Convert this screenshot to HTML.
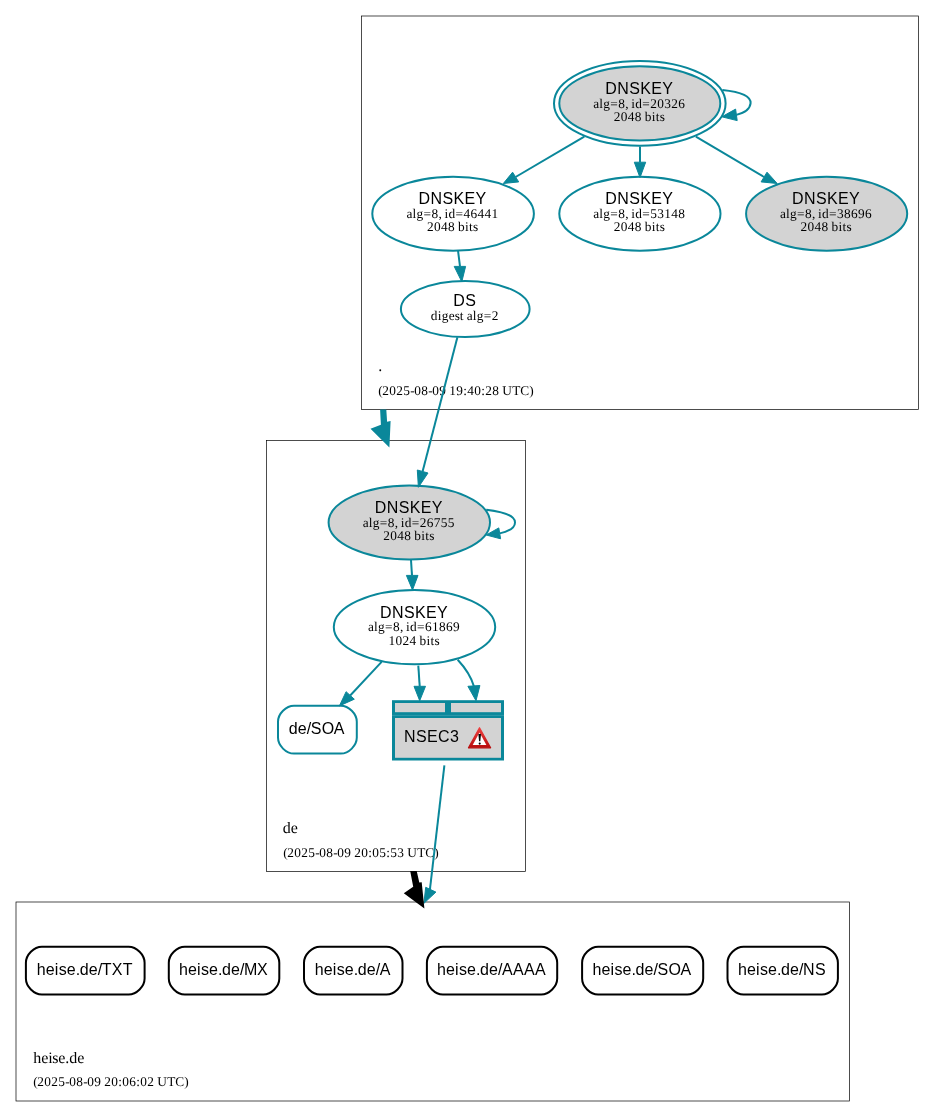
<!DOCTYPE html>
<html><head><meta charset="utf-8">
<style>
html,body{margin:0;padding:0;background:#fff;width:935px;height:1117px;overflow:hidden}
svg{display:block;will-change:transform}

</style></head>
<body>
<svg width="935" height="1117" viewBox="0 0 935 1117">
<rect x="0" y="0" width="935" height="1117" fill="#fff"/>
<g fill="none" stroke="#000" stroke-width="0.7">
<rect x="361.5" y="16" width="557" height="393.5"/>
<rect x="266.5" y="440.5" width="259" height="431"/>
<rect x="16" y="902" width="833.5" height="199"/>
</g>
<text x="378.2" y="371.3" style="font-family:'Liberation Serif',serif;font-size:16px;text-rendering:geometricPrecision" fill="#000">.</text>
<text x="378.2 382.2 389.2 396.2 403.2 410.2 414.2 421.2 428.2 432.2 439.2 446.2 449.2 456.2 463.2 467.2 474.2 481.2 485.2 492.2 499.2 502.2 512.2 520.2 529.2" y="394.9" style="font-family:'Liberation Serif',serif;font-size:13.333px;text-rendering:geometricPrecision" fill="#000">(2025-08-09 19:40:28 UTC)</text>
<text x="282.7 290.7" y="832.5" style="font-family:'Liberation Serif',serif;font-size:16px;text-rendering:geometricPrecision" fill="#000">de</text>
<text x="283.3 287.3 294.3 301.3 308.3 315.3 319.3 326.3 333.3 337.3 344.3 351.3 354.3 361.3 368.3 372.3 379.3 386.3 390.3 397.3 404.3 407.3 417.3 425.3 434.3" y="856.7" style="font-family:'Liberation Serif',serif;font-size:13.333px;text-rendering:geometricPrecision" fill="#000">(2025-08-09 20:05:53 UTC)</text>
<text x="33.2 41.2 48.2 52.2 58.2 65.2 69.2 77.2" y="1062.7" style="font-family:'Liberation Serif',serif;font-size:16px;text-rendering:geometricPrecision" fill="#000">heise.de</text>
<text x="33.2 37.2 44.2 51.2 58.2 65.2 69.2 76.2 83.2 87.2 94.2 101.2 104.2 111.2 118.2 122.2 129.2 136.2 140.2 147.2 154.2 157.2 167.2 175.2 184.2" y="1085.5" style="font-family:'Liberation Serif',serif;font-size:13.333px;text-rendering:geometricPrecision" fill="#000">(2025-08-09 20:06:02 UTC)</text>
<ellipse cx="639.8" cy="103.4" rx="85.8" ry="42.4" fill="none" stroke="#0a879a" stroke-width="2"/>
<ellipse cx="639.8" cy="103.4" rx="80.5" ry="37.1" fill="#d3d3d3" stroke="#0a879a" stroke-width="2"/>
<text x="605.2 617.2 629.2 640.2 651.2 662.2" y="94" style="font-family:'Liberation Sans',sans-serif;font-size:16px" fill="#000">DNSKEY</text>
<text x="593.2 599.2 603.2 610.2 618.2 625.2 628.2 631.2 635.2 642.2 650.2 657.2 664.2 671.2 678.2" y="108" style="font-family:'Liberation Serif',serif;font-size:13.333px;text-rendering:geometricPrecision" fill="#000">alg=8, id=20326</text>
<text x="613.7 620.7 627.7 634.7 641.7 644.7 651.7 655.7 659.7" y="121" style="font-family:'Liberation Serif',serif;font-size:13.333px;text-rendering:geometricPrecision" fill="#000">2048 bits</text>
<ellipse cx="453.1" cy="213.75" rx="80.8" ry="37" fill="none" stroke="#0a879a" stroke-width="2"/>
<text x="418.5 430.5 442.5 453.5 464.5 475.5" y="204" style="font-family:'Liberation Sans',sans-serif;font-size:16px" fill="#000">DNSKEY</text>
<text x="406.5 412.5 416.5 423.5 431.5 438.5 441.5 444.5 448.5 455.5 463.5 470.5 477.5 484.5 491.5" y="218" style="font-family:'Liberation Serif',serif;font-size:13.333px;text-rendering:geometricPrecision" fill="#000">alg=8, id=46441</text>
<text x="427.0 434.0 441.0 448.0 455.0 458.0 465.0 469.0 473.0" y="231" style="font-family:'Liberation Serif',serif;font-size:13.333px;text-rendering:geometricPrecision" fill="#000">2048 bits</text>
<ellipse cx="639.9" cy="213.75" rx="80.6" ry="37" fill="none" stroke="#0a879a" stroke-width="2"/>
<text x="605.3 617.3 629.3 640.3 651.3 662.3" y="204" style="font-family:'Liberation Sans',sans-serif;font-size:16px" fill="#000">DNSKEY</text>
<text x="593.3 599.3 603.3 610.3 618.3 625.3 628.3 631.3 635.3 642.3 650.3 657.3 664.3 671.3 678.3" y="218" style="font-family:'Liberation Serif',serif;font-size:13.333px;text-rendering:geometricPrecision" fill="#000">alg=8, id=53148</text>
<text x="613.8 620.8 627.8 634.8 641.8 644.8 651.8 655.8 659.8" y="231" style="font-family:'Liberation Serif',serif;font-size:13.333px;text-rendering:geometricPrecision" fill="#000">2048 bits</text>
<ellipse cx="826.65" cy="213.75" rx="80.55" ry="37" fill="#d3d3d3" stroke="#0a879a" stroke-width="2"/>
<text x="792.05 804.05 816.05 827.05 838.05 849.05" y="204" style="font-family:'Liberation Sans',sans-serif;font-size:16px" fill="#000">DNSKEY</text>
<text x="780.05 786.05 790.05 797.05 805.05 812.05 815.05 818.05 822.05 829.05 837.05 844.05 851.05 858.05 865.05" y="218" style="font-family:'Liberation Serif',serif;font-size:13.333px;text-rendering:geometricPrecision" fill="#000">alg=8, id=38696</text>
<text x="800.55 807.55 814.55 821.55 828.55 831.55 838.55 842.55 846.55" y="231" style="font-family:'Liberation Serif',serif;font-size:13.333px;text-rendering:geometricPrecision" fill="#000">2048 bits</text>
<ellipse cx="465.25" cy="309" rx="64.35" ry="28.1" fill="none" stroke="#0a879a" stroke-width="2"/>
<text x="453.15 465.15" y="306" style="font-family:'Liberation Sans',sans-serif;font-size:16px" fill="#000">DS</text>
<text x="430.65 437.65 441.65 448.65 454.65 459.65 463.65 466.65 472.65 476.65 483.65 491.65" y="320" style="font-family:'Liberation Serif',serif;font-size:13.333px;text-rendering:geometricPrecision" fill="#000">digest alg=2</text>
<ellipse cx="409.3" cy="522.5" rx="80.7" ry="37" fill="#d3d3d3" stroke="#0a879a" stroke-width="2"/>
<text x="374.7 386.7 398.7 409.7 420.7 431.7" y="513" style="font-family:'Liberation Sans',sans-serif;font-size:16px" fill="#000">DNSKEY</text>
<text x="362.7 368.7 372.7 379.7 387.7 394.7 397.7 400.7 404.7 411.7 419.7 426.7 433.7 440.7 447.7" y="527" style="font-family:'Liberation Serif',serif;font-size:13.333px;text-rendering:geometricPrecision" fill="#000">alg=8, id=26755</text>
<text x="383.2 390.2 397.2 404.2 411.2 414.2 421.2 425.2 429.2" y="540" style="font-family:'Liberation Serif',serif;font-size:13.333px;text-rendering:geometricPrecision" fill="#000">2048 bits</text>
<ellipse cx="414.5" cy="627.1" rx="80.7" ry="37.1" fill="none" stroke="#0a879a" stroke-width="2"/>
<text x="379.9 391.9 403.9 414.9 425.9 436.9" y="618" style="font-family:'Liberation Sans',sans-serif;font-size:16px" fill="#000">DNSKEY</text>
<text x="367.9 373.9 377.9 384.9 392.9 399.9 402.9 405.9 409.9 416.9 424.9 431.9 438.9 445.9 452.9" y="631" style="font-family:'Liberation Serif',serif;font-size:13.333px;text-rendering:geometricPrecision" fill="#000">alg=8, id=61869</text>
<text x="388.4 395.4 402.4 409.4 416.4 419.4 426.4 430.4 434.4" y="645" style="font-family:'Liberation Serif',serif;font-size:13.333px;text-rendering:geometricPrecision" fill="#000">1024 bits</text>
<path d="M294,705.7 L340.8,705.7 C348.8,705.7 356.8,713.7 356.8,721.7 L356.8,737.6 C356.8,745.6 348.8,753.6 340.8,753.6 L294,753.6 C286.0,753.6 278,745.6 278,737.6 L278,721.7 C278,713.7 286.0,705.7 294,705.7 Z" fill="none" stroke="#0a879a" stroke-width="2"/>
<text x="288.8 297.8 306.8 310.8 321.8 333.8" y="733.5" style="font-family:'Liberation Sans',sans-serif;font-size:16px" fill="#000">de/SOA</text>
<rect x="392" y="700.2" width="112" height="60.3" fill="#0a879a"/>
<rect x="395" y="703" width="50" height="9.2" fill="#d3d3d3"/>
<rect x="451" y="703" width="50" height="9.2" fill="#d3d3d3"/>
<rect x="395" y="718" width="106" height="39.8" fill="#d3d3d3"/>
<rect x="392" y="714.9" width="112" height="0.8" fill="#3a9fae"/>
<text x="404 416 427 438 450" y="741.9" style="font-family:'Liberation Sans',sans-serif;font-size:16px" fill="#000">NSEC3</text>
<defs><linearGradient id="wg" x1="0" y1="0" x2="0" y2="1">
<stop offset="0" stop-color="#ee4040"/><stop offset="1" stop-color="#b80c0c"/>
</linearGradient></defs>
<path d="M479.5,727.8 L490.6,747.8 L468.5,747.8 Z" fill="url(#wg)" stroke="url(#wg)" stroke-width="1.3" stroke-linejoin="round"/>
<path d="M479.5,732.6 L486.4,745.1 L472.7,745.1 Z" fill="#fff"/>
<path d="M478.4,734.0 L481.0,734.0 L480.3,741.2 L479.1,741.2 Z" fill="#000"/>
<circle cx="479.7" cy="743.6" r="1.05" fill="#000"/>
<path d="M41.9,946.7 L128.6,946.7 C136.6,946.7 144.6,954.7 144.6,962.7 L144.6,978.5 C144.6,986.5 136.6,994.5 128.6,994.5 L41.9,994.5 C33.9,994.5 25.9,986.5 25.9,978.5 L25.9,962.7 C25.9,954.7 33.9,946.7 41.9,946.7 Z" fill="none" stroke="#000" stroke-width="2"/>
<text x="36.65 45.65 54.65 58.65 66.65 75.65 79.65 88.65 97.65 101.65 111.65 122.65" y="974.8" style="font-family:'Liberation Sans',sans-serif;font-size:16px" fill="#000">heise.de/TXT</text>
<path d="M184.8,946.7 L263.3,946.7 C271.3,946.7 279.3,954.7 279.3,962.7 L279.3,978.5 C279.3,986.5 271.3,994.5 263.3,994.5 L184.8,994.5 C176.8,994.5 168.8,986.5 168.8,978.5 L168.8,962.7 C168.8,954.7 176.8,946.7 184.8,946.7 Z" fill="none" stroke="#000" stroke-width="2"/>
<text x="178.95 187.95 196.95 200.95 208.95 217.95 221.95 230.95 239.95 243.95 256.95" y="974.8" style="font-family:'Liberation Sans',sans-serif;font-size:16px" fill="#000">heise.de/MX</text>
<path d="M320,946.7 L386.5,946.7 C394.5,946.7 402.5,954.7 402.5,962.7 L402.5,978.5 C402.5,986.5 394.5,994.5 386.5,994.5 L320,994.5 C312.0,994.5 304,986.5 304,978.5 L304,962.7 C304,954.7 312.0,946.7 320,946.7 Z" fill="none" stroke="#000" stroke-width="2"/>
<text x="314.65 323.65 332.65 336.65 344.65 353.65 357.65 366.65 375.65 379.65" y="974.8" style="font-family:'Liberation Sans',sans-serif;font-size:16px" fill="#000">heise.de/A</text>
<path d="M442.9,946.7 L541.2,946.7 C549.2,946.7 557.2,954.7 557.2,962.7 L557.2,978.5 C557.2,986.5 549.2,994.5 541.2,994.5 L442.9,994.5 C434.9,994.5 426.9,986.5 426.9,978.5 L426.9,962.7 C426.9,954.7 434.9,946.7 442.9,946.7 Z" fill="none" stroke="#000" stroke-width="2"/>
<text x="436.95 445.95 454.95 458.95 466.95 475.95 479.95 488.95 497.95 501.95 512.95 523.95 534.95" y="974.8" style="font-family:'Liberation Sans',sans-serif;font-size:16px" fill="#000">heise.de/AAAA</text>
<path d="M598.1,946.7 L687.2,946.7 C695.2,946.7 703.2,954.7 703.2,962.7 L703.2,978.5 C703.2,986.5 695.2,994.5 687.2,994.5 L598.1,994.5 C590.1,994.5 582.1,986.5 582.1,978.5 L582.1,962.7 C582.1,954.7 590.1,946.7 598.1,946.7 Z" fill="none" stroke="#000" stroke-width="2"/>
<text x="592.55 601.55 610.55 614.55 622.55 631.55 635.55 644.55 653.55 657.55 668.55 680.55" y="974.8" style="font-family:'Liberation Sans',sans-serif;font-size:16px" fill="#000">heise.de/SOA</text>
<path d="M743.5,946.7 L821.9,946.7 C829.9,946.7 837.9,954.7 837.9,962.7 L837.9,978.5 C837.9,986.5 829.9,994.5 821.9,994.5 L743.5,994.5 C735.5,994.5 727.5,986.5 727.5,978.5 L727.5,962.7 C727.5,954.7 735.5,946.7 743.5,946.7 Z" fill="none" stroke="#000" stroke-width="2"/>
<text x="738.1 747.1 756.1 760.1 768.1 777.1 781.1 790.1 799.1 803.1 815.1" y="974.8" style="font-family:'Liberation Sans',sans-serif;font-size:16px" fill="#000">heise.de/NS</text>
<g fill="none" stroke="#0a879a" stroke-width="2">
<path d="M584.3,136.6 L515.6,177"/>
<path d="M640,146.6 L640,162.2"/>
<path d="M695.9,136.6 L764,177"/>
<path d="M458,250.7 L460,266.4"/>
<path d="M457.4,337.3 L422.6,471.5"/>
<path d="M411,560 L412,575.4"/>
<path d="M381.6,661.9 L350.2,695.5"/>
<path d="M418.3,665.6 L419.7,686.3"/>
<path d="M457.7,659.8 Q470,673 474,686.5"/>
<path d="M444.4,765.3 L429.9,889.7"/>
<path d="M722.4,90 C742,92 751,96 750.6,103.2 C750,110 744,113 736.4,114.9"/>
<path d="M486.2,509.7 C506,512 515,516 515,522.4 C515,528 508,531.5 499.7,533.4"/>
</g>
<g fill="#0a879a" stroke="#0a879a" stroke-width="1">
<polygon points="503.3,183.5 512.6,172.2 518.7,181.9"/>
<polygon points="634.3,162.2 645.7,162.2 640,177.6"/>
<polygon points="777.2,183.5 767,172.2 761.1,181.9"/>
<polygon points="454.2,266.4 465.6,266.4 461.8,281.8"/>
<polygon points="417.3,470 428,473 418.4,487.3"/>
<polygon points="406.4,575.4 418,575.4 412.5,590"/>
<polygon points="346.1,691.7 354.3,699.2 339.4,705.9"/>
<polygon points="414,686.3 425.5,686.3 419.7,700.7"/>
<polygon points="467.9,686.3 479.9,685.5 476,700.7"/>
<polygon points="425.7,887.3 435.9,892.1 423.9,903.3"/>
<polygon points="721.8,116.8 735.6,109.1 737.2,120.6"/>
<polygon points="486.2,535 498.8,527.9 500.6,538.8"/>
</g>
<polygon points="380.1,409.4 386.3,409.4 387.1,421.75 390.6,420.9 389.4,447.5 370.5,428.7 380.9,424.7" fill="#0a879a"/>
<polygon points="410.2,871 416.7,871 419.3,882.5 421.7,882.2 424.4,908.4 403.8,893.2 413.2,886.7" fill="#000"/>
</svg>
</body></html>
